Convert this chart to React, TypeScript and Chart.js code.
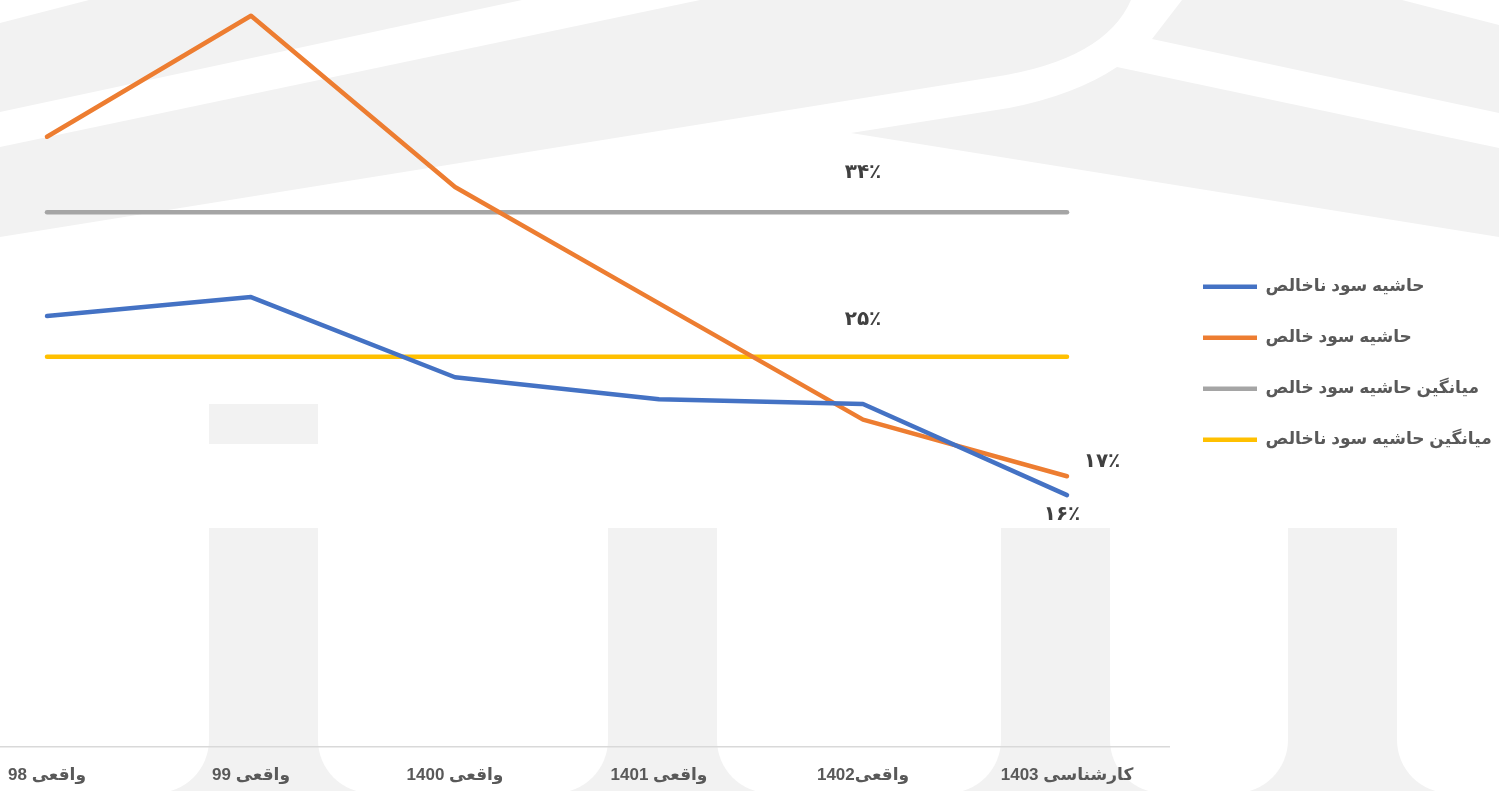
import React, { useEffect, useRef } from 'react';
import { Chart, registerables } from 'chart.js';

Chart.register(...registerables);

// ---------- data ----------
const categories = ['واقعی 98', 'واقعی 99', 'واقعی 1400', 'واقعی 1401', 'واقعی1402', 'کارشناسی 1403'];
const seriesNames = ['حاشیه سود ناخالص', 'حاشیه سود خالص', 'میانگین حاشیه سود خالص', 'میانگین حاشیه سود ناخالص'];
const grossMargin = [27.4, 28.6, 23.5, 22.1, 21.8, 16.0];
const netMargin = [38.8, 46.5, 35.6, 28.2, 20.8, 17.2];
const avgNetMargin = [34, 34, 34, 34, 34, 34];
const avgGrossMargin = [24.8, 24.8, 24.8, 24.8, 24.8, 24.8];
const grossLabels = [null, null, null, null, null, '۱۶٪'];
const netLabels = [null, null, null, null, null, '۱۷٪'];
const avgNetLabels = [null, null, null, null, '۳۴٪', null];
const avgGrossLabels = [null, null, null, null, '۲۵٪', null];

// ---------- styles ----------
const COLORS = ['#4472C4', '#ED7D31', '#A5A5A5', '#FFC000'];
const LABEL_OFFSETS = [
  { dx: -5, dy: 20 },
  { dx: 35, dy: -14 },
  { dx: 0, dy: -39 },
  { dx: 0, dy: -37 },
];
const FONT_FAMILY = '"Liberation Sans", "DejaVu Sans", Arial, sans-serif';
const CANVAS_LEFT = -55;
const CANVAS_W = 1554;
const CANVAS_H = 811;
const VIEW_H = 791;
const WATERMARK_COLOR = '#f2f2f2';

const watermarkPlugin = {
  id: 'watermark',
  beforeDraw(chart: any) {
    const ctx = chart.ctx;
    const s = -CANVAS_LEFT;
    ctx.save();
    ctx.fillStyle = WATERMARK_COLOR;
    const poly = (pts: number[][]) => {
      ctx.beginPath();
      pts.forEach((p, i) => (i === 0 ? ctx.moveTo(p[0] + s, p[1]) : ctx.lineTo(p[0] + s, p[1])));
      ctx.closePath();
      ctx.fill();
    };
    poly([[89, 0], [522, 0], [0, 112], [0, 23]]);
    ctx.beginPath();
    ctx.moveTo(700 + s, 0);
    ctx.lineTo(1131 + s, 0);
    ctx.quadraticCurveTo(1105 + s, 60, 994 + s, 77);
    ctx.lineTo(0 + s, 237);
    ctx.lineTo(0 + s, 147);
    ctx.closePath();
    ctx.fill();
    poly([[1182, 0], [1402, 0], [1499, 25], [1499, 113], [1152, 39]]);
    ctx.beginPath();
    ctx.moveTo(1117 + s, 67);
    ctx.lineTo(1499 + s, 148);
    ctx.lineTo(1499 + s, 237);
    ctx.lineTo(851 + s, 133);
    ctx.lineTo(1009 + s, 108);
    ctx.quadraticCurveTo(1075 + s, 95, 1117 + s, 67);
    ctx.closePath();
    ctx.fill();
    ctx.fillRect(209 + s, 404, 109, 40);
    [209, 608, 1001, 1288].forEach((x) => ctx.fillRect(x + s, 528, 109, 263));
    // bottom band with rounded white gaps
    ctx.fillRect(0, 700, CANVAS_W, 91);
    ctx.fillStyle = '#ffffff';
    const gaps = [[-60, 209], [318, 608], [717, 1001], [1110, 1288], [1397, 1560]];
    gaps.forEach(([a, b]) => {
      ctx.beginPath();
      (ctx as any).roundRect(a + s, 690, b - a, 103, [0, 0, 53, 53]);
      ctx.fill();
    });
    ctx.restore();
  },
};

const pointLabelPlugin = {
  id: 'pointLabels',
  afterDatasetsDraw(chart: any) {
    const ctx = chart.ctx;
    const all = [grossLabels, netLabels, avgNetLabels, avgGrossLabels];
    ctx.save();
    ctx.font = `bold 20px "DejaVu Sans", sans-serif`;
    ctx.fillStyle = '#404040';
    ctx.textAlign = 'center';
    ctx.textBaseline = 'middle';
    all.forEach((labels, di) => {
      const meta = chart.getDatasetMeta(di);
      labels.forEach((t, i) => {
        if (!t) return;
        const el = meta.data[i];
        ctx.fillText(t, el.x + LABEL_OFFSETS[di].dx, el.y + LABEL_OFFSETS[di].dy);
      });
    });
    ctx.restore();
  },
};

export default function App() {
  const ref = useRef<HTMLCanvasElement>(null);
  useEffect(() => {
    if (!ref.current) return;
    const series = [grossMargin, netMargin, avgNetMargin, avgGrossMargin];
    const chart = new Chart(ref.current, {
      type: 'line',
      data: {
        labels: categories,
        datasets: series.map((d, i) => ({
          label: seriesNames[i],
          data: d,
          borderColor: COLORS[i],
          backgroundColor: COLORS[i],
          borderWidth: 4.5,
          borderCapStyle: 'round' as const,
          borderJoinStyle: 'round' as const,
          pointRadius: 0,
          pointHoverRadius: 0,
          pointStyle: 'line',
          tension: 0,
          fill: false,
        })),
      },
      options: {
        responsive: false,
        animation: false,
        layout: { padding: { top: 0, bottom: 6, left: 0, right: 0 } },
        scales: {
          x: {
            offset: true,
            grid: { display: false, drawTicks: false },
            border: { display: true, color: '#d9d9d9', width: 1.5 },
            ticks: {
              color: '#595959',
              font: { family: FONT_FAMILY, size: 17, weight: 'bold' },
              padding: 19,
              maxRotation: 0,
              autoSkip: false,
            },
          },
          y: { display: false, min: 0, max: 47.5 },
        },
        plugins: {
          tooltip: { enabled: false },
          legend: {
            position: 'right',
            align: 'start',
            maxWidth: 330,
            textDirection: 'rtl',
            title: { display: true, text: '', font: { size: 16 }, padding: { top: 0, bottom: 225 } },
            labels: {
              usePointStyle: true,
              pointStyle: 'line',
              pointStyleWidth: 54,
              padding: 34,
              color: '#595959',
              font: { family: FONT_FAMILY, size: 17, weight: 'bold' },
            },
          },
        },
      },
      plugins: [watermarkPlugin, pointLabelPlugin],
    } as any);
    return () => chart.destroy();
  }, []);
  return (
    <div style={{ position: 'absolute', left: CANVAS_LEFT, top: 0, width: CANVAS_W, height: VIEW_H, overflow: 'hidden' }}>
      <canvas ref={ref} dir="rtl" width={CANVAS_W} height={CANVAS_H} style={{ display: 'block' }} />
    </div>
  );
}
